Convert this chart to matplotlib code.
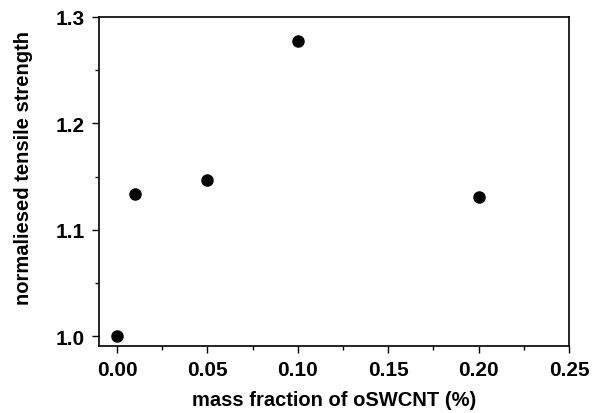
import matplotlib
matplotlib.use('Agg')
import matplotlib.pyplot as plt
from matplotlib.ticker import MultipleLocator

mass_fraction = [0.0, 0.01, 0.05, 0.10, 0.20]
strength = [1.000, 1.134, 1.147, 1.277, 1.131]

plt.rcParams['font.family'] = ['Liberation Sans', 'DejaVu Sans']
plt.rcParams['font.weight'] = 'bold'

fig = plt.figure(figsize=(5.99, 4.14), dpi=100)
ax = fig.add_axes([99 / 599, 67 / 414, 470 / 599, 329 / 414])

ax.plot(mass_fraction, strength, 'o', color='black', markersize=8)

ax.set_xlim(-0.01, 0.25)
ax.set_ylim(0.9906, 1.3)
ax.xaxis.set_major_locator(MultipleLocator(0.05))
ax.xaxis.set_minor_locator(MultipleLocator(0.025))
ax.yaxis.set_major_locator(MultipleLocator(0.1))
ax.yaxis.set_minor_locator(MultipleLocator(0.05))
ax.xaxis.set_major_formatter(plt.FormatStrFormatter('%.2f'))
ax.yaxis.set_major_formatter(plt.FormatStrFormatter('%.1f'))
ax.tick_params(which='major', direction='out', length=5, width=1, labelsize=15, pad=5)
ax.tick_params(which='minor', direction='out', length=3, width=1)
for s in ax.spines.values():
    s.set_linewidth(1.2)

ax.set_xlabel('mass fraction of oSWCNT (%)', fontsize=14.5, fontweight='bold', labelpad=8)
ax.set_ylabel('normaliesed tensile strength', fontsize=14.5, fontweight='bold')
ax.yaxis.set_label_coords(-0.14, 0.545)

fig.savefig('out.png', dpi=100)
